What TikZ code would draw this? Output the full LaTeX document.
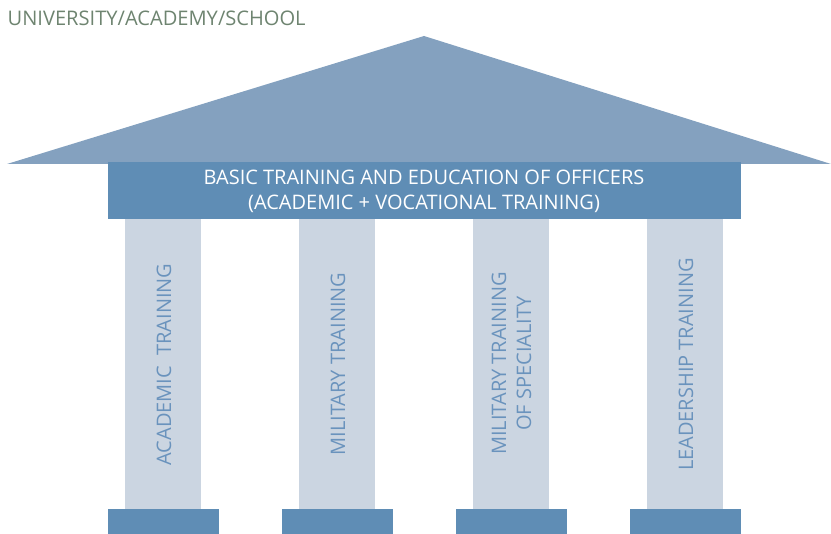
\documentclass[tikz,border=0pt]{standalone}
\usepackage{fontspec}
\setmainfont{Open Sans}
\usepackage{tikz}
\definecolor{roofblue}{HTML}{84A1BF}
\definecolor{beamblue}{HTML}{5F8DB5}
\definecolor{pillargray}{HTML}{CBD5E1}
\definecolor{pillartext}{HTML}{6A93BD}
\definecolor{titlegreen}{HTML}{6E8470}
\tikzset{
  pillar/.style={fill=pillargray},
  plinth/.style={fill=beamblue},
  pillarlabel/.style={rotate=90, text=pillartext, align=center, font=\fontsize{20}{25}\selectfont}
}

\begin{document}
\begin{tikzpicture}[x=1pt,y=-1pt]
  \useasboundingbox (0,0) rectangle (831,534);

  % Draw title
  \node (title) [anchor=west, text=titlegreen, inner sep=0pt, font=\fontsize{20.1}{24}\selectfont] at (7.5,18) {UNIVERSITY/ACADEMY/SCHOOL};

  % Draw roof
  \fill [roofblue] (7,164) -- (424,36) -- (831,164) -- cycle;

  % Draw beam
  \fill [beamblue] (108,162) rectangle (741,219);
  \node (beam) [text=white, align=center, font=\fontsize{20}{25}\selectfont] at (424,191.5) {BASIC TRAINING AND EDUCATION OF OFFICERS\\(ACADEMIC + VOCATIONAL TRAINING)};

  % Draw pillars
  \fill [pillar] (125,219) rectangle (201,509);
  \fill [pillar] (299,219) rectangle (375,509);
  \fill [pillar] (473,219) rectangle (549,509);
  \fill [pillar] (647,219) rectangle (723,509);

  % Draw plinths
  \fill [plinth] (108,509) rectangle (219,534);
  \fill [plinth] (282,509) rectangle (393,534);
  \fill [plinth] (456,509) rectangle (567,534);
  \fill [plinth] (630,509) rectangle (741,534);

  % Pillar labels
  \node (academic) [pillarlabel] at (164,364.5) {ACADEMIC\ \ TRAINING};
  \node (military) [pillarlabel] at (338,364) {MILITARY TRAINING};
  \node (speciality) [pillarlabel] at (511.5,363.5) {MILITARY TRAINING\\OF SPECIALITY};
  \node (leadership) [pillarlabel] at (686,364.5) {LEADERSHIP TRAINING};
\end{tikzpicture}
\end{document}
